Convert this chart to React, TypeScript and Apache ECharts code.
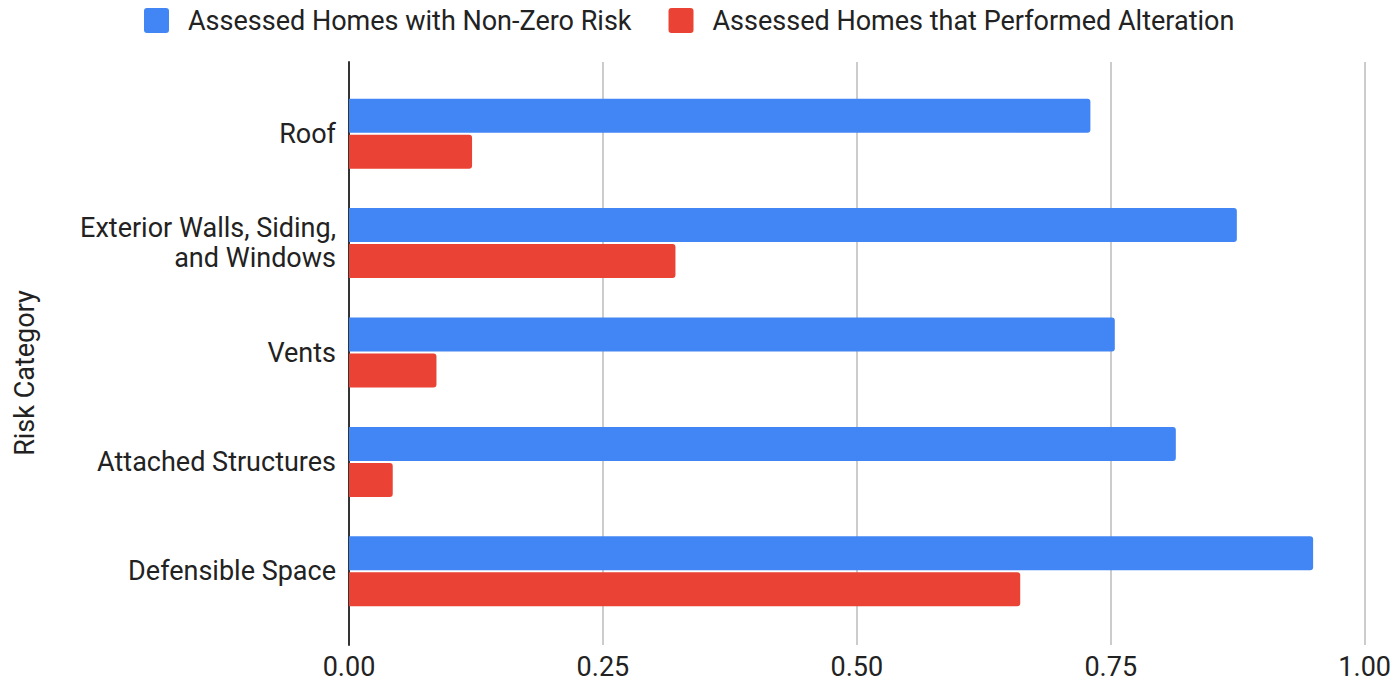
import React, { useEffect, useRef } from "react";
import * as echarts from "echarts";

const categories = [
  "Roof",
  "Exterior Walls, Siding,\nand Windows",
  "Vents",
  "Attached Structures",
  "Defensible Space",
];
const nonZeroRisk = [0.729, 0.873, 0.753, 0.813, 0.948];
const performedAlteration = [0.121, 0.321, 0.086, 0.043, 0.66];
const seriesNames = [
  "Assessed Homes with Non-Zero Risk",
  "Assessed Homes that Performed Alteration",
];
const axisTitle = "Risk Category";

const FONT = "Roboto, 'Noto Sans', sans-serif";
const TEXT = "#222222";
const FS = 27;

export default function App() {
  const ref = useRef<HTMLDivElement>(null);
  useEffect(() => {
    if (!ref.current) return;
    const chart = echarts.init(ref.current, null, { renderer: "svg" });
    chart.setOption({
      animation: false,
      backgroundColor: "#ffffff",
      textStyle: { fontFamily: FONT },
      legend: {
        left: 144,
        top: 7,
        padding: 0,
        itemWidth: 25,
        itemHeight: 25,
        itemGap: 37,
        icon: "path://M3,0 L22,0 Q25,0 25,3 L25,22 Q25,25 22,25 L3,25 Q0,25 0,22 L0,3 Q0,0 3,0 Z",
        textStyle: {
          fontSize: FS,
          color: TEXT,
          fontFamily: FONT,
          padding: [0, 0, 0, 14],
        },
        data: seriesNames,
      },
      grid: [
        { left: 349, top: 62, right: 28, bottom: 39 },
        { left: 349, top: 79, right: 28, height: 547 },
      ],
      xAxis: [
        {
          gridIndex: 0,
          type: "value",
          min: 0,
          max: 1,
          interval: 0.25,
          axisLine: { show: false },
          axisTick: { show: false },
          splitLine: { show: true, lineStyle: { color: "#cccccc", width: 2 } },
          axisLabel: {
            fontSize: FS,
            color: TEXT,
            fontFamily: FONT,
            margin: 8,
            formatter: (v: number) => v.toFixed(2),
          },
        },
        {
          gridIndex: 1,
          type: "value",
          min: 0,
          max: 1,
          show: false,
        },
      ],
      yAxis: [
        {
          gridIndex: 0,
          type: "value",
          min: 0,
          max: 1,
          axisLine: { show: true, lineStyle: { color: "#333333", width: 2 } },
          axisTick: { show: false },
          axisLabel: { show: false },
          splitLine: { show: false },
        },
        {
          gridIndex: 1,
          type: "category",
          data: categories,
          inverse: true,
          axisLine: { show: false },
          axisTick: { show: false },
          splitLine: { show: false },
          axisLabel: {
            fontSize: FS,
            color: TEXT,
            fontFamily: FONT,
            margin: 13,
            lineHeight: 30,
            align: "right",
          },
        },
      ],
      graphic: [
        {
          type: "text",
          x: 25,
          y: 373,
          rotation: Math.PI / 2,
          style: {
            text: axisTitle,
            fontSize: FS,
            fontFamily: FONT,
            fill: TEXT,
            align: "center",
            verticalAlign: "middle",
          },
        },
      ],
      series: [
        {
          name: seriesNames[0],
          type: "bar",
          xAxisIndex: 1,
          yAxisIndex: 1,
          data: nonZeroRisk,
          barWidth: 34,
          barGap: "6%",
          itemStyle: { color: "#4285F4", borderRadius: [0, 3, 3, 0] },
        },
        {
          name: seriesNames[1],
          type: "bar",
          xAxisIndex: 1,
          yAxisIndex: 1,
          data: performedAlteration,
          barWidth: 34,
          barGap: "6%",
          itemStyle: { color: "#EA4335", borderRadius: [0, 3, 3, 0] },
        },
      ],
    });
    return () => chart.dispose();
  }, []);
  return (
    <div
      ref={ref}
      style={{ position: "absolute", left: 0, top: 0, width: 1394, height: 684 }}
    />
  );
}
